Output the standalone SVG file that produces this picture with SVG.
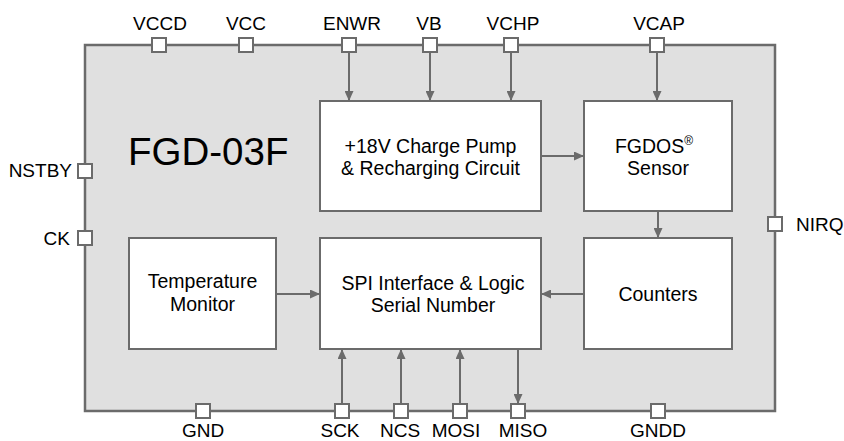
<svg xmlns="http://www.w3.org/2000/svg" width="844" height="441" viewBox="0 0 844 441">
<defs>
<marker id="ah" markerWidth="10" markerHeight="9" refX="9" refY="4.5" orient="auto" markerUnits="userSpaceOnUse">
<path d="M0,0 L10,4.5 L0,9 Z" fill="#6b6b6b"/>
</marker>
<style>
.chip{fill:#e0e0e0;stroke:#6b6b6b;stroke-width:2.5}
.box{fill:#ffffff;stroke:#6b6b6b;stroke-width:2}
.pin{fill:#ffffff;stroke:#6b6b6b;stroke-width:2}
.c{fill:none;stroke:#6b6b6b;stroke-width:2;marker-end:url(#ah)}
text{font-family:"Liberation Sans",Arial,sans-serif;fill:#000}
.pl{font-size:19px}
.bl{font-size:19.5px;text-anchor:middle}
.m{text-anchor:middle}
.e{text-anchor:end}
</style>
</defs>
<g id="chip">
<rect class="chip" x="85" y="45" width="690" height="366"/>
<text x="128" y="165" font-size="38.5">FGD-03F</text>
</g>
<g id="pins">
<g id="pin-VCCD"><rect class="pin" x="152" y="38" width="14" height="14"/><text class="pl m" x="160" y="30">VCCD</text></g>
<g id="pin-VCC"><rect class="pin" x="239" y="38" width="14" height="14"/><text class="pl m" x="246" y="30">VCC</text></g>
<g id="pin-ENWR"><rect class="pin" x="342" y="38" width="14" height="14"/><text class="pl m" x="352" y="30">ENWR</text></g>
<g id="pin-VB"><rect class="pin" x="423" y="38" width="14" height="14"/><text class="pl m" x="429" y="30">VB</text></g>
<g id="pin-VCHP"><rect class="pin" x="504" y="38" width="14" height="14"/><text class="pl m" x="513" y="30">VCHP</text></g>
<g id="pin-VCAP"><rect class="pin" x="650" y="38" width="14" height="14"/><text class="pl m" x="659" y="30">VCAP</text></g>
<g id="pin-NSTBY"><rect class="pin" x="78" y="164" width="14" height="14"/><text class="pl e" x="72" y="177">NSTBY</text></g>
<g id="pin-CK"><rect class="pin" x="78" y="231" width="14" height="14"/><text class="pl e" x="70" y="245">CK</text></g>
<g id="pin-NIRQ"><rect class="pin" x="768" y="217" width="14" height="14"/><text class="pl" x="796" y="231">NIRQ</text></g>
<g id="pin-GND"><rect class="pin" x="196" y="404" width="14" height="14"/><text class="pl m" x="203" y="437">GND</text></g>
<g id="pin-SCK"><rect class="pin" x="335" y="404" width="14" height="14"/><text class="pl m" x="340" y="437">SCK</text></g>
<g id="pin-NCS"><rect class="pin" x="394" y="404" width="14" height="14"/><text class="pl m" x="400" y="437">NCS</text></g>
<g id="pin-MOSI"><rect class="pin" x="453" y="404" width="14" height="14"/><text class="pl m" x="456" y="437">MOSI</text></g>
<g id="pin-MISO"><rect class="pin" x="511" y="404" width="14" height="14"/><text class="pl m" x="523" y="437">MISO</text></g>
<g id="pin-GNDD"><rect class="pin" x="651" y="404" width="14" height="14"/><text class="pl m" x="658" y="437">GNDD</text></g>
</g>
<g id="charge-pump">
<rect class="box" x="320" y="101" width="221" height="110"/>
<text class="bl" x="430.5" y="153">+18V Charge Pump</text>
<text class="bl" x="430.5" y="175">&amp; Recharging Circuit</text>
</g>
<g id="fgdos-sensor">
<rect class="box" x="584" y="101" width="148" height="110"/>
<text class="bl" x="654" y="153">FGDOS<tspan font-size="12" dy="-8">®</tspan></text>
<text class="bl" x="658" y="175">Sensor</text>
</g>
<g id="temperature-monitor">
<rect class="box" x="129" y="238" width="147" height="111"/>
<text class="bl" x="202.5" y="288">Temperature</text>
<text class="bl" x="202.5" y="311">Monitor</text>
</g>
<g id="spi-logic">
<rect class="box" x="320" y="238" width="221" height="111"/>
<text class="bl" x="433" y="290">SPI Interface &amp; Logic</text>
<text class="bl" x="433" y="312">Serial Number</text>
</g>
<g id="counters">
<rect class="box" x="584" y="238" width="148" height="111"/>
<text class="bl" x="658" y="301">Counters</text>
</g>
<g id="connectors">
<path class="c" d="M349,52 V100"/>
<path class="c" d="M430,52 V100"/>
<path class="c" d="M511,52 V100"/>
<path class="c" d="M657,52 V100"/>
<path class="c" d="M541,156 H583"/>
<path class="c" d="M658,211 V237"/>
<path class="c" d="M584,294 H542"/>
<path class="c" d="M276,294 H319"/>
<path class="c" d="M342,404 V350"/>
<path class="c" d="M401,404 V350"/>
<path class="c" d="M460,404 V350"/>
<path class="c" d="M518,349 V403"/>
</g>
</svg>
